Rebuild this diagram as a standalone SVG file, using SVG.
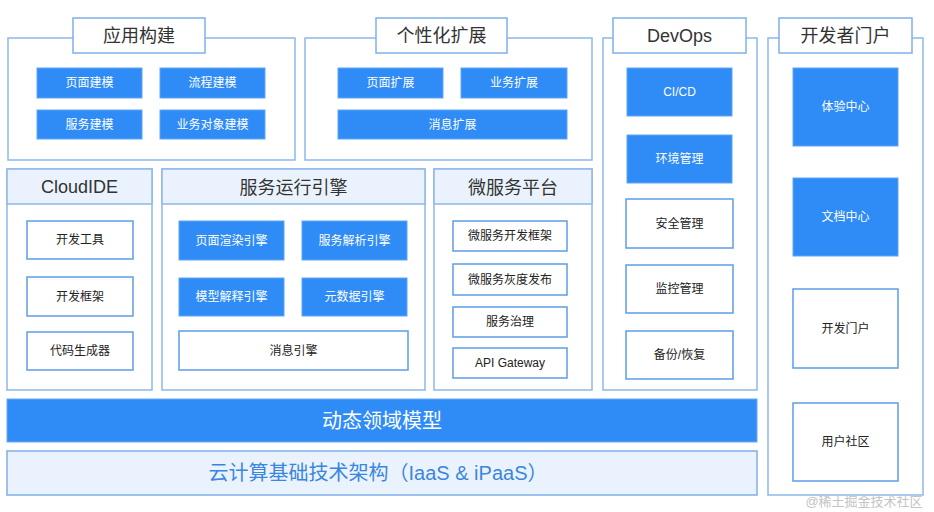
<svg xmlns="http://www.w3.org/2000/svg" width="934" height="512" viewBox="0 0 934 512">
<style>
text{font-family:"Liberation Sans","Noto Sans CJK SC",sans-serif;text-anchor:middle;dominant-baseline:central}
.outer{fill:#fff;stroke:#8db8ea;stroke-width:1.5}
.head{fill:#eaf3fd;stroke:#8db8ea;stroke-width:1.5}
.tbox{fill:#fff;stroke:#7fb0ea;stroke-width:1.5}
.blue{fill:#2f8cf7;stroke:#5ea6f5;stroke-width:1}
.wbox{fill:#fff;stroke:#5c9de6;stroke-width:1.5}
.title{font-size:18px;fill:#333}
.bt{font-size:12px;fill:#fff}
.wt{font-size:12px;fill:#222}
</style>
<rect width="934" height="512" fill="#fff"/>

<g id="app-build">
<rect class="outer" x="8" y="38" width="287" height="122"/>
<rect class="tbox" x="73" y="18" width="132" height="35"/>
<text class="title" x="139" y="36">应用构建</text>
<rect class="blue" x="37" y="68" width="105" height="30"/><text class="bt" x="89.5" y="83">页面建模</text>
<rect class="blue" x="160" y="68" width="105" height="30"/><text class="bt" x="212.5" y="83">流程建模</text>
<rect class="blue" x="37" y="110" width="105" height="29"/><text class="bt" x="89.5" y="125">服务建模</text>
<rect class="blue" x="160" y="110" width="105" height="29"/><text class="bt" x="212.5" y="125">业务对象建模</text>
</g>

<g id="personalize">
<rect class="outer" x="305" y="38" width="287" height="122"/>
<rect class="tbox" x="376" y="18" width="131" height="35"/>
<text class="title" x="441.5" y="36">个性化扩展</text>
<rect class="blue" x="338" y="68" width="105" height="30"/><text class="bt" x="390.5" y="83">页面扩展</text>
<rect class="blue" x="461" y="68" width="106" height="30"/><text class="bt" x="514" y="83">业务扩展</text>
<rect class="blue" x="338" y="110" width="229" height="29"/><text class="bt" x="452.5" y="125">消息扩展</text>
</g>

<g id="devops">
<rect class="outer" x="603" y="38" width="154" height="352"/>
<rect class="tbox" x="613" y="18" width="133" height="35"/>
<text class="title" x="679.5" y="36">DevOps</text>
<rect class="blue" x="627" y="68" width="105" height="48"/><text class="bt" x="679.5" y="92">CI/CD</text>
<rect class="blue" x="627" y="135" width="105" height="48"/><text class="bt" x="679.5" y="159">环境管理</text>
<rect class="wbox" x="626" y="199" width="107" height="49"/><text class="wt" x="679.5" y="224">安全管理</text>
<rect class="wbox" x="626" y="265" width="107" height="48"/><text class="wt" x="679.5" y="289">监控管理</text>
<rect class="wbox" x="626" y="331" width="107" height="48"/><text class="wt" x="679.5" y="355">备份/恢复</text>
</g>

<g id="dev-portal">
<rect class="outer" x="768" y="38" width="155" height="457"/>
<rect class="tbox" x="779" y="18" width="133" height="35"/>
<text class="title" x="845.5" y="36">开发者门户</text>
<rect class="blue" x="793" y="68" width="105" height="78"/><text class="bt" x="845.5" y="107">体验中心</text>
<rect class="blue" x="793" y="178" width="105" height="78"/><text class="bt" x="845.5" y="217">文档中心</text>
<rect class="wbox" x="793" y="289" width="105" height="79"/><text class="wt" x="845.5" y="328.5">开发门户</text>
<rect class="wbox" x="793" y="403" width="105" height="78"/><text class="wt" x="845.5" y="442">用户社区</text>
</g>

<g id="cloudide">
<rect class="outer" x="7" y="169" width="145" height="221"/>
<rect class="head" x="7" y="169" width="145" height="35"/>
<text class="title" x="79.5" y="187" style="font-size:18px">CloudIDE</text>
<rect class="wbox" x="27" y="221" width="106" height="38"/><text class="wt" x="80" y="240">开发工具</text>
<rect class="wbox" x="27" y="277" width="106" height="39"/><text class="wt" x="80" y="296.5">开发框架</text>
<rect class="wbox" x="27" y="332" width="106" height="38"/><text class="wt" x="80" y="351">代码生成器</text>
</g>

<g id="runtime-engine">
<rect class="outer" x="162" y="169" width="263" height="221"/>
<rect class="head" x="162" y="169" width="263" height="35"/>
<text class="title" x="293.5" y="188">服务运行引擎</text>
<rect class="blue" x="179" y="221" width="105" height="39"/><text class="bt" x="231.5" y="240.5">页面渲染引擎</text>
<rect class="blue" x="302" y="221" width="105" height="39"/><text class="bt" x="354.5" y="240.5">服务解析引擎</text>
<rect class="blue" x="179" y="278" width="105" height="38"/><text class="bt" x="231.5" y="297">模型解释引擎</text>
<rect class="blue" x="302" y="278" width="105" height="38"/><text class="bt" x="354.5" y="297">元数据引擎</text>
<rect class="wbox" x="179" y="331" width="229" height="39"/><text class="wt" x="293.5" y="350.5">消息引擎</text>
</g>

<g id="microservice">
<rect class="outer" x="434" y="169" width="158" height="221"/>
<rect class="head" x="434" y="169" width="158" height="35"/>
<text class="title" x="513" y="188">微服务平台</text>
<rect class="wbox" x="453" y="221" width="114" height="30"/><text class="wt" x="510" y="236">微服务开发框架</text>
<rect class="wbox" x="453" y="264" width="114" height="31"/><text class="wt" x="510" y="279.5">微服务灰度发布</text>
<rect class="wbox" x="453" y="307" width="114" height="30"/><text class="wt" x="510" y="322">服务治理</text>
<rect class="wbox" x="453" y="348" width="114" height="30"/><text class="wt" x="510" y="363">API Gateway</text>
</g>

<g id="domain-model">
<rect x="7" y="399" width="750" height="43" fill="#2f8cf7" stroke="#6aaaf3" stroke-width="1"/>
<text x="382" y="420.5" style="font-size:20px;fill:#fff">动态领域模型</text>
</g>

<g id="cloud-infra">
<rect x="7" y="451" width="750" height="44" fill="#eaf3fd" stroke="#7fb0ea" stroke-width="1.5"/>
<text x="378" y="473" style="font-size:20px;fill:#3a86de">云计算基础技术架构（IaaS &amp; iPaaS）</text>
</g>

<g id="connectors"></g>

<text x="864" y="501" style="font-size:13px;fill:#c4c4c4">@稀土掘金技术社区</text>
</svg>
